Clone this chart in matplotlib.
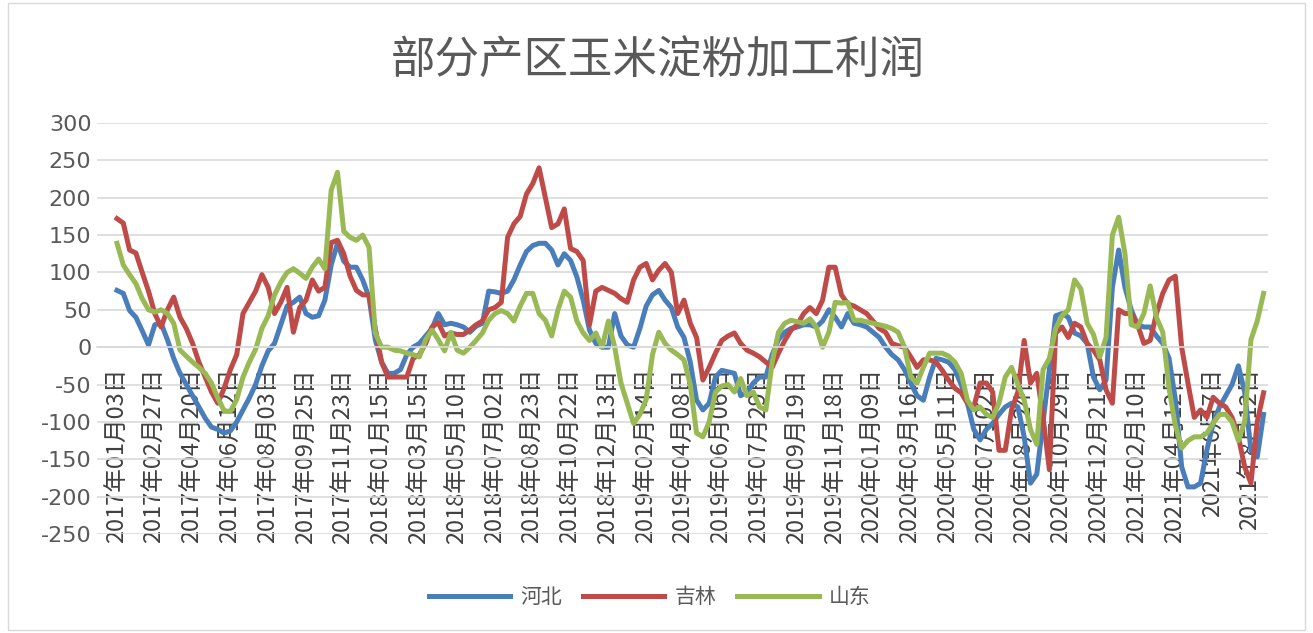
import matplotlib.pyplot as plt
from matplotlib.patches import Rectangle

plt.rcParams['font.family'] = ['Noto Sans CJK SC', 'DejaVu Sans']
plt.rcParams['axes.unicode_minus'] = False

# category labels shown on the axis (one every 6 samples)
tick_labels = ['2017年01月03日', '2017年02月27日', '2017年04月20日', '2017年06月12日',
               '2017年08月03日', '2017年09月25日', '2017年11月23日',
               '2018年01月15日', '2018年03月15日', '2018年05月10日', '2018年07月02日',
               '2018年08月23日', '2018年10月22日', '2018年12月13日',
               '2019年02月14日', '2019年04月08日', '2019年06月06日', '2019年07月29日',
               '2019年09月19日', '2019年11月18日',
               '2020年01月09日', '2020年03月16日', '2020年05月11日', '2020年07月02日',
               '2020年08月24日', '2020年10月29日', '2020年12月21日',
               '2021年02月10日', '2021年04月12日', '2021年6月7日', '2021年8月12日']

# profit series
hebei = [76, 72, 49, 40, 22, 3, 30, 32, 10, -15,
         -35, -50, -65, -80, -95, -107, -110, -115, -112, -100,
         -84, -68, -50, -25, -5, 5, 30, 55, 60, 67,
         45, 40, 42, 63, 110, 139, 115, 107, 107, 90,
         67, 10, -20, -35, -35, -30, -10, 0, 5, 15,
         25, 45, 30, 32, 30, 27, 20, 28, 32, 75,
         74, 72, 75, 90, 110, 128, 136, 139, 139, 130,
         110, 125, 116, 94, 63, 23, 5, 0, 0, 45,
         15, 3, 0, 25, 55, 70, 76, 63, 53, 27,
         13, -20, -71, -84, -75, -40, -31, -33, -35, -65,
         -60, -48, -40, -40, -10, 10, 20, 25, 27, 30,
         30, 27, 35, 50, 40, 27, 45, 32, 30, 27,
         20, 13, 0, -10, -17, -30, -48, -65, -71, -40,
         -15, -17, -20, -30, -50, -75, -110, -124, -110, -102,
         -90, -80, -75, -80, -120, -182, -170, -100, -30, 42,
         45, 40, 19, 15, 5, -40, -57, -44, 80, 130,
         80, 50, 30, 27, 27, 15, 5, -15, -70, -160,
         -187, -187, -182, -138, -102, -80, -65, -50, -25, -60,
         -138, -147, -90]

jilin = [172, 166, 130, 126, 100, 75, 45, 27, 50, 67,
         40, 25, 5, -20, -40, -60, -75, -55, -30, -10,
         45, 60, 75, 97, 80, 45, 60, 80, 20, 53,
         63, 90, 75, 80, 140, 143, 125, 95, 76, 70,
         70, 25, -20, -40, -40, -40, -40, -15, -10, 5,
         27, 33, 15, 19, 17, 17, 23, 30, 35, 50,
         53, 60, 147, 165, 175, 205, 219, 240, 200, 160,
         165, 185, 132, 128, 116, 30, 75, 80, 76, 72,
         65, 60, 90, 107, 112, 90, 103, 112, 100, 45,
         63, 32, 13, -44, -27, -8, 9, 15, 19, 5,
         -4, -8, -13, -20, -27, -8, 9, 23, 30, 45,
         53, 45, 63, 107, 107, 70, 58, 55, 50, 45,
         35, 25, 20, 5, 2, 0, -13, -27, -17, -17,
         -20, -31, -44, -55, -61, -75, -80, -48, -48, -60,
         -138, -138, -84, -60, 9, -48, -35, -94, -164, 19,
         27, 13, 32, 27, 5, -4, -17, -57, -75, 50,
         45, 45, 30, 5, 9, 45, 72, 90, 95, 0,
         -48, -94, -84, -94, -67, -75, -80, -94, -120, -160,
         -182, -100, -61]

shandong = [139, 110, 97, 85, 65, 50, 47, 50, 45, 32,
            -4, -12, -20, -27, -35, -48, -68, -85, -86, -70,
            -40, -20, -3, 25, 42, 70, 87, 100, 105, 99,
            92, 107, 118, 105, 210, 234, 155, 147, 143, 150,
            134, 19, 0, 0, -4, -5, -8, -10, -13, 10,
            23, 10, -5, 20, -4, -8, 0, 9, 19, 36,
            45, 49, 45, 35, 55, 72, 72, 45, 36, 15,
            50, 75, 67, 35, 19, 9, 19, 0, 35, 0,
            -48, -75, -102, -90, -70, -10, 20, 5, -4, -10,
            -17, -50, -115, -120, -100, -60, -52, -50, -60, -42,
            -65, -60, -80, -84, -20, 20, 32, 36, 34, 32,
            38, 27, 0, 20, 60, 59, 60, 36, 36, 34,
            32, 30, 28, 25, 20, 0, -40, -48, -27, -8,
            -8, -8, -12, -20, -35, -71, -84, -80, -90, -94,
            -75, -40, -27, -50, -71, -110, -130, -30, -15, 25,
            42, 50, 90, 78, 32, 17, -13, 13, 150, 174,
            125, 30, 27, 45, 82, 40, 20, -55, -105, -135,
            -125, -120, -120, -115, -102, -90, -90, -100, -125, -100,
            10, 35, 72]

fig = plt.figure(figsize=(13.13, 6.33), dpi=100)
ax = fig.add_axes([0.0739, 0.1564, 0.8918, 0.6493])

# axis line crosses at zero, like the Excel original (set before tick styling)
ax.spines[['left', 'right', 'top']].set_visible(False)
ax.spines['bottom'].set_position(('data', 0))
ax.spines['bottom'].set_color('#d9d9d9')
ax.spines['bottom'].set_linewidth(1.2)

x = list(range(len(hebei)))
ax.plot(x, hebei, color='#4A7EBB', lw=3.6, solid_joinstyle='round', label='河北')
ax.plot(x, jilin, color='#BE4B48', lw=3.6, solid_joinstyle='round', label='吉林')
ax.plot(x, shandong, color='#98B954', lw=3.6, solid_joinstyle='round', label='山东')

ax.set_ylim(-250, 300)
ax.set_yticks(range(-250, 301, 50))
ax.set_xlim(-3.17, 182.7)
ax.set_xticks(range(0, len(hebei), 6))
ax.set_xticklabels(tick_labels)
ax.tick_params(axis='x', length=0, pad=15, labelrotation=90, labelsize=17,
               labelcolor='#404040')
ax.tick_params(axis='y', length=0, pad=4, labelsize=16, labelcolor='#595959')
for lbl in ax.get_yticklabels():
    lbl.set_family('DejaVu Sans')

ax.grid(axis='y', color='#d9d9d9', lw=1.2)

fig.text(0.501, 0.904, '部分产区玉米淀粉加工利润', ha='center', va='center',
         fontsize=32, color='#595959')

fig.legend(loc='center', bbox_to_anchor=(0.495, 0.057), ncol=3, frameon=False,
           fontsize=15, handlelength=3.9, handletextpad=0.5, columnspacing=1.0,
           labelcolor='#595959')

fig.patches.append(Rectangle((0.006, 0.005), 0.988, 0.99, transform=fig.transFigure,
                             fill=False, edgecolor='#d9d9d9', lw=1))

fig.savefig('out.png', dpi=100)
